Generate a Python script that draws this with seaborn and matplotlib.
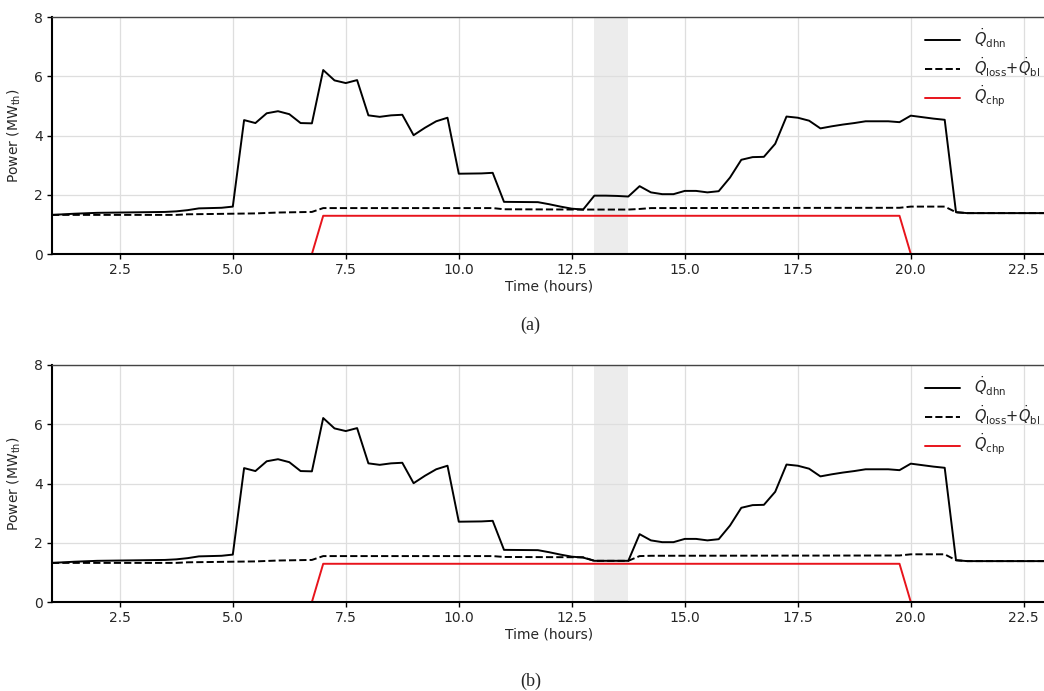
import numpy as np
import pandas as pd
import matplotlib
matplotlib.use("Agg")
import matplotlib.pyplot as plt
import seaborn as sns

sns.set_style("whitegrid")
plt.rcParams['font.family'] = ['DejaVu Sans']
plt.rcParams['mathtext.fontset'] = 'dejavusans'

# ---------------- data ----------------
t_dhn = [1.0, 1.5, 2.0, 2.5, 3.0, 3.5, 3.75, 4.0, 4.25, 4.75, 5.0, 5.25, 5.5, 5.75, 6.0, 6.25,
         6.5, 6.75, 7.0, 7.25, 7.5, 7.75, 8.0, 8.25, 8.5, 8.75, 9.0, 9.25, 9.5, 9.75, 10.0,
         10.5, 10.75, 11.0, 11.75, 12.0, 12.25, 12.5, 12.75, 13.0, 13.25, 13.5, 13.75, 14.0,
         14.25, 14.5, 14.75, 15.0, 15.25, 15.5, 15.75, 16.0, 16.25, 16.5, 16.75, 17.0, 17.25,
         17.5, 17.75, 18.0, 18.25, 18.5, 18.75, 19.0, 19.5, 19.75, 20.0, 20.25, 20.5, 20.75,
         21.0, 21.25, 23.0]
q_dhn_a = [1.32, 1.36, 1.39, 1.40, 1.41, 1.42, 1.44, 1.48, 1.54, 1.56, 1.60, 4.52, 4.42, 4.75,
           4.82, 4.72, 4.42, 4.41, 6.21, 5.86, 5.77, 5.87, 4.68, 4.63, 4.68, 4.70, 4.01, 4.26,
           4.48, 4.60, 2.71, 2.72, 2.74, 1.76, 1.75, 1.68, 1.60, 1.53, 1.50, 1.97, 1.97, 1.96,
           1.94, 2.29, 2.08, 2.02, 2.02, 2.13, 2.13, 2.08, 2.12, 2.58, 3.18, 3.27, 3.28, 3.72,
           4.64, 4.60, 4.50, 4.24, 4.31, 4.37, 4.42, 4.48, 4.48, 4.45, 4.67, 4.62, 4.57, 4.53,
           1.41, 1.38, 1.38]
q_dhn_b = [1.32, 1.36, 1.39, 1.40, 1.41, 1.42, 1.44, 1.48, 1.54, 1.56, 1.60, 4.52, 4.42, 4.75,
           4.82, 4.72, 4.42, 4.41, 6.21, 5.86, 5.77, 5.87, 4.68, 4.63, 4.68, 4.70, 4.01, 4.26,
           4.48, 4.60, 2.71, 2.72, 2.74, 1.76, 1.75, 1.68, 1.60, 1.53, 1.50, 1.39, 1.39, 1.39,
           1.39, 2.29, 2.08, 2.02, 2.02, 2.13, 2.13, 2.08, 2.12, 2.58, 3.18, 3.27, 3.28, 3.72,
           4.64, 4.60, 4.50, 4.24, 4.31, 4.37, 4.42, 4.48, 4.48, 4.45, 4.67, 4.62, 4.57, 4.53,
           1.41, 1.38, 1.38]

t_loss = [1.0, 3.75, 4.0, 5.0, 5.5, 6.0, 6.75, 7.0, 10.75, 11.0, 12.75, 13.0, 13.75, 14.0,
          14.25, 19.75, 20.0, 20.75, 21.0, 21.25, 23.0]
q_loss_a = [1.32, 1.32, 1.34, 1.36, 1.37, 1.40, 1.42, 1.55, 1.55, 1.51, 1.50, 1.50, 1.50, 1.52,
            1.55, 1.56, 1.60, 1.60, 1.41, 1.38, 1.38]
q_loss_b = [1.32, 1.32, 1.34, 1.36, 1.37, 1.40, 1.42, 1.55, 1.55, 1.52, 1.51, 1.39, 1.39, 1.55,
            1.56, 1.57, 1.61, 1.61, 1.41, 1.38, 1.38]

t_chp = [6.75, 7.0, 19.75, 20.0]
q_chp = [0.0, 1.29, 1.29, 0.0]

shade = (13.0, 13.75)
x_ticks = [2.5, 5.0, 7.5, 10.0, 12.5, 15.0, 17.5, 20.0, 22.5]
y_ticks = [0, 2, 4, 6, 8]

labels = [r'$\dot{Q}_{\mathrm{dhn}}$',
          r'$\dot{Q}_{\mathrm{loss}}$+$\dot{Q}_{\mathrm{bl}}$',
          r'$\dot{Q}_{\mathrm{chp}}$']

# ---------------- figure ----------------
W, H = 1044, 691
fig = plt.figure(figsize=(W / 100, H / 100), dpi=100)

left = 52 / W
width = (22 * 45.2) / W
height = 237 / H
ax_a = fig.add_axes([left, (H - 254) / H, width, height])
ax_b = fig.add_axes([left, (H - 602) / H, width, height])


def draw(ax, q_dhn, q_loss):
    ax.axvspan(shade[0], shade[1], color='#ececec', zorder=0, lw=0)
    sns.lineplot(x=t_dhn, y=q_dhn, ax=ax, color='black', lw=1.4, label=labels[0])
    sns.lineplot(x=t_loss, y=q_loss, ax=ax, color='black', lw=1.4, linestyle='--',
                 label=labels[1])
    sns.lineplot(x=t_chp, y=q_chp, ax=ax, color='#e8141c', lw=1.4, label=labels[2])
    ax.set_xlim(1, 23)
    ax.set_ylim(0, 8)
    ax.set_xticks(x_ticks)
    ax.set_xticklabels([f"{v:.1f}" for v in x_ticks])
    ax.set_yticks(y_ticks)
    ax.grid(True, color='#dedede', lw=0.9)
    ax.set_axisbelow(True)
    ax.tick_params(axis='both', labelsize=10, length=3.5, width=1, color='black',
                   bottom=True, left=True, pad=3)
    for s in ['left', 'bottom']:
        ax.spines[s].set_color('black')
        ax.spines[s].set_linewidth(1.5)
    ax.spines['top'].set_color('#444444')
    ax.spines['top'].set_linewidth(1.0)
    ax.spines['right'].set_visible(False)
    ax.set_xlabel('Time (hours)', fontsize=10, labelpad=2)
    ax.set_ylabel(r'Power (MW$_{\mathrm{th}}$)', fontsize=10, labelpad=8)
    leg = ax.legend(loc='upper right', bbox_to_anchor=(1.0, 0.985), borderaxespad=0,
                    frameon=False, fontsize=10.5, labelspacing=0.36, handlelength=2.4,
                    handletextpad=1.0)
    return leg


draw(ax_a, q_dhn_a, q_loss_a)
draw(ax_b, q_dhn_b, q_loss_b)

fig.text(0.508, 1 - 325 / H, '(a)', ha='center', va='center', fontsize=13,
         family='Liberation Serif')
fig.text(0.508, 1 - 681 / H, '(b)', ha='center', va='center', fontsize=13,
         family='Liberation Serif')

fig.savefig('out.png', dpi=100)
